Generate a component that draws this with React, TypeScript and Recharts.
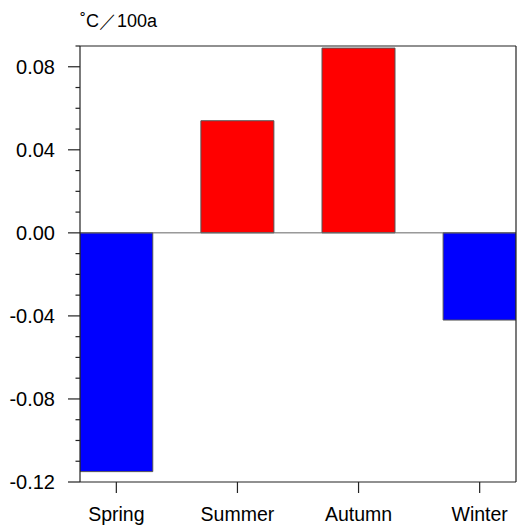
import { BarChart, Bar, XAxis, YAxis, Cell, ReferenceLine } from 'recharts';

const seasons = ['Spring', 'Summer', 'Autumn', 'Winter'];
const seasonPos = [1, 2, 3, 4];
const trend = [-0.115, 0.054, 0.089, -0.042];

const yTicks = [
  -0.12, -0.11, -0.1, -0.09, -0.08, -0.07, -0.06, -0.05, -0.04, -0.03, -0.02,
  -0.01, 0, 0.01, 0.02, 0.03, 0.04, 0.05, 0.06, 0.07, 0.08, 0.09,
];
const yMajor = [-0.12, -0.08, -0.04, 0, 0.04, 0.08];
const yLabels = ['-0.12', '-0.08', '-0.04', '0.00', '0.04', '0.08'];

const FONT = '"Liberation Sans", Arial, Helvetica, sans-serif';
const AXIS = '#222';

const data = seasonPos.map((x, i) => ({ x, name: seasons[i], value: trend[i] }));

function LeftTick(props: any) {
  const { x, y, payload } = props;
  const idx = yMajor.findIndex((m) => Math.abs(m - payload.value) < 1e-6);
  const major = idx >= 0;
  return (
    <g>
      <line x1={x - (major ? 12 : 4.5)} x2={x} y1={y} y2={y} stroke={AXIS} strokeWidth={1.2} />
      {major && (
        <text x={x - 25} y={y} dy="0.36em" textAnchor="end" fontSize={20} fontFamily={FONT} fill="#000">
          {yLabels[idx]}
        </text>
      )}
    </g>
  );
}

export default function App() {
  return (
    <div style={{ position: 'absolute', left: 0, top: 0, width: 518, height: 525, background: '#fff' }}>
      <div
        style={{
          position: 'absolute',
          left: 80,
          top: 9,
          fontFamily: FONT,
          fontSize: 18,
          color: '#000',
          whiteSpace: 'nowrap',
        }}
      >
        ˚C／100a
      </div>
      <BarChart width={518} height={525} data={data} margin={{ top: 0, right: 0, bottom: 0, left: 0 }}>
        <XAxis
          xAxisId="top"
          orientation="top"
          type="number"
          dataKey="x"
          domain={[0.7, 4.3]}
          ticks={seasonPos}
          tick={false}
          tickSize={11}
          height={46}
          stroke={AXIS}
          strokeWidth={1.2}
          allowDataOverflow
        />
        <XAxis
          type="number"
          dataKey="x"
          domain={[0.7, 4.3]}
          ticks={seasonPos}
          tickFormatter={(v: number) => seasons[seasonPos.indexOf(v)]}
          tickSize={11}
          tickMargin={14}
          height={43}
          stroke={AXIS}
          strokeWidth={1.2}
          tick={{ fill: '#000', fontSize: 19.5, fontFamily: FONT }}
          allowDataOverflow
        />
        <YAxis
          type="number"
          domain={[-0.12, 0.09]}
          ticks={yTicks}
          width={80}
          tickSize={0}
          tickMargin={0}
          tickLine={false}
          tick={<LeftTick />}
          interval={0}
          stroke={AXIS}
          strokeWidth={1.2}
          allowDataOverflow
        />
        <YAxis
          yAxisId="right"
          orientation="right"
          type="number"
          domain={[-0.12, 0.09]}
          ticks={yTicks}
          width={2}
          tickSize={5}
          tick={false}
          interval={0}
          stroke={AXIS}
          strokeWidth={1.2}
          allowDataOverflow
        />
        <ReferenceLine y={0} stroke="#666" strokeWidth={1} />
        <Bar dataKey="value" barSize={73} stroke="#555" strokeWidth={1} isAnimationActive={false}>
          {data.map((d) => (
            <Cell key={d.name} fill={d.value >= 0 ? '#ff0000' : '#0000ff'} />
          ))}
        </Bar>
      </BarChart>
    </div>
  );
}
